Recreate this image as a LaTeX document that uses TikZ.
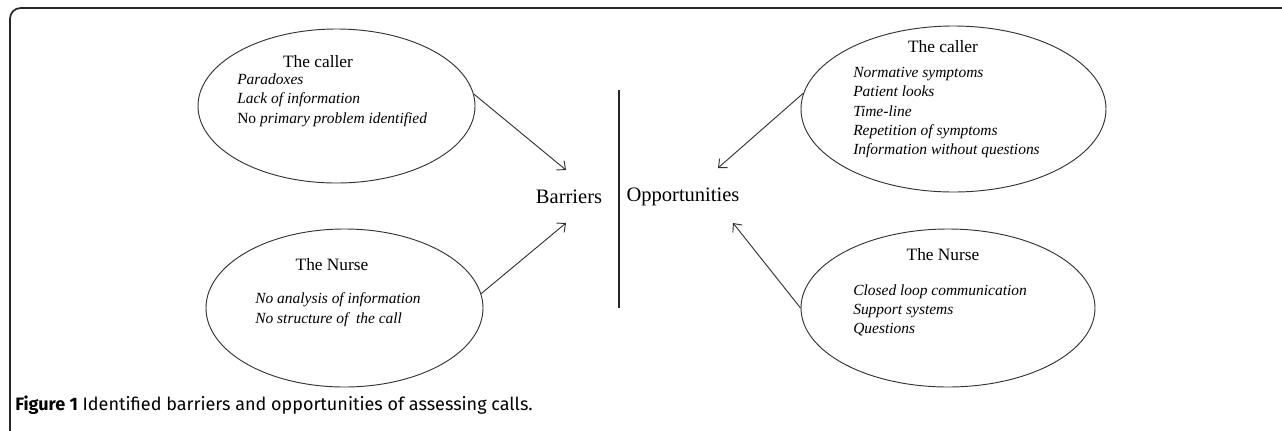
\documentclass[tikz,border=0pt]{standalone}
\usepackage{fontspec}
\setmainfont{Liberation Serif}
\newfontfamily\capfont{Fira Sans}
\usetikzlibrary{shapes.geometric,arrows.meta}
\tikzset{
  bubble/.style={draw=black!80, line width=0.7pt, ellipse, inner sep=0pt},
  title/.style={font=\fontsize{13}{15}\selectfont, inner sep=0pt, anchor=center},
  items/.style={font=\fontsize{11.6}{14.5}\selectfont\itshape, inner sep=0pt, anchor=north west, align=left},
  big/.style={font=\fontsize{15.4}{18}\selectfont, inner sep=0pt},
  conn/.style={draw=black!80, line width=0.7pt, -{Straight Barb[length=5pt,width=9pt]}}
}
\begin{document}
\begin{tikzpicture}[x=0.75pt,y=-0.75pt]
\useasboundingbox (0,0) rectangle (1282,430);
% frame
\draw[black!85, line width=1.3pt, rounded corners=8pt] (10,432) -- (10,8) -- (1284,8);
% ellipses
\node[bubble, minimum width=277*0.75pt, minimum height=154*0.75pt] (eTL) at (336.5,106) {};
\node[bubble, minimum width=277*0.75pt, minimum height=158*0.75pt] (eBL) at (344.5,308) {};
\node[bubble, minimum width=305*0.75pt, minimum height=166*0.75pt] (eTR) at (953.5,109) {};
\node[bubble, minimum width=294*0.75pt, minimum height=158*0.75pt] (eBR) at (948,308) {};
% texts top-left
\node[title] (tTL) at (318,62) {The caller};
\node[items] (iTL) at (237,73.5) {Paradoxes\\Lack of information\\\upshape No \itshape primary problem identified};
% bottom-left
\node[title] (tBL) at (332,265) {The Nurse};
\node[items] (iBL) at (255,292.5) {No analysis of information\\No structure of \ the call};
% top-right
\node[title] (tTR) at (943,47) {The caller};
\node[items] (iTR) at (853,67) {Normative symptoms\\Patient looks\\Time-line\\Repetition of symptoms\\Information without questions};
% bottom-right
\node[title] (tBR) at (943,255) {The Nurse};
\node[items] (iBR) at (853,284) {Closed loop communication\\Support systems\\Questions};
% centre
\node[big] (bar) at (569,197) {Barriers};
\node[big] (opp) at (683,197) {Opportunities};
\coordinate (vT) at (619,90);
\coordinate (vB) at (619,308);
\draw[black!85, line width=0.8pt] (vT) -- (vB);
\coordinate (aTL) at (566,170);
\coordinate (aBL) at (566,223);
\coordinate (aTR) at (718,168);
\coordinate (aBR) at (733,223);
\draw[conn] (eTL.5) -- (aTL);
\draw[conn] (eBL.6) -- (aBL);
\draw[conn] (eTR.174) -- (aTR);
\draw[conn] (eBR.west) -- (aBR);
% caption
\node[font=\capfont\fontsize{13.5}{16}\selectfont, inner sep=0pt, anchor=west, text=black] (cap) at (15,405) {\textbf{Figure 1} Identified barriers and opportunities of assessing calls.};
\end{tikzpicture}
\end{document}
